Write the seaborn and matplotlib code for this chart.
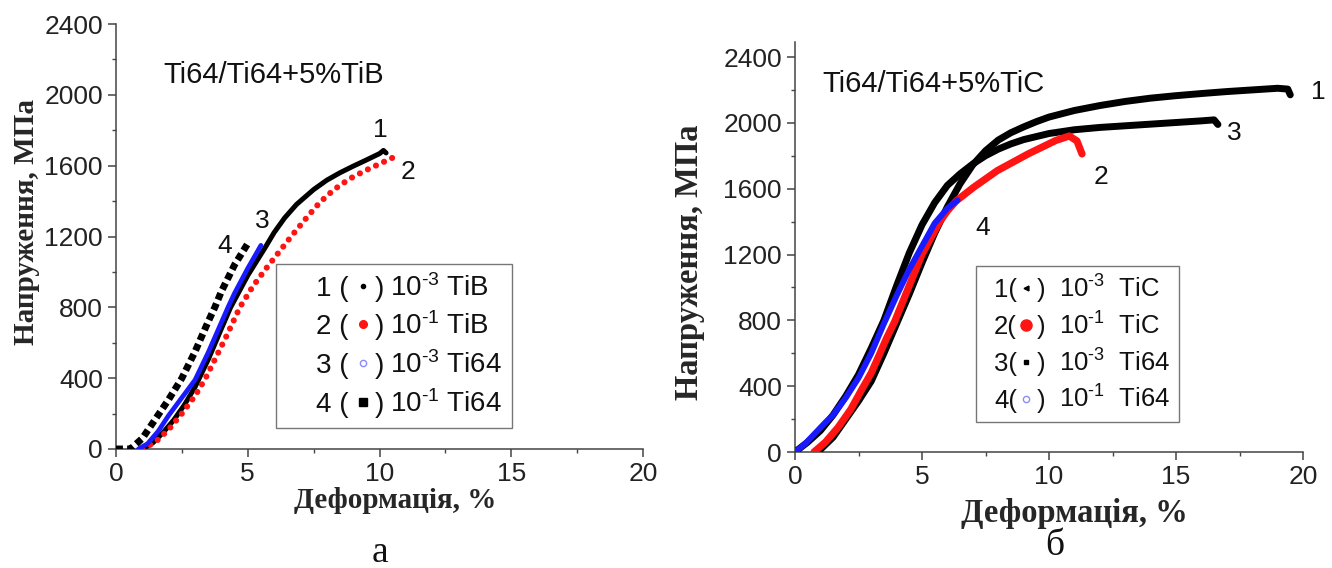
import matplotlib
matplotlib.use("Agg")
import matplotlib.pyplot as plt
import seaborn as sns
from matplotlib.legend_handler import HandlerBase
from matplotlib.lines import Line2D
from matplotlib.text import Text
from matplotlib.ticker import MultipleLocator

# ---------------- data: panel a (Ti64/Ti64+5%TiB) ----------------
tib_c1_x = [1.0, 1.4, 1.8, 2.2, 2.6, 3.0, 3.5, 4.0, 4.35, 5.0, 5.65, 6.0, 6.4, 6.85, 7.5,
            8.0, 8.5, 9.0, 9.5, 10.0, 10.15, 10.25]
tib_c1_y = [0, 35, 95, 165, 250, 350, 505, 680, 800, 980, 1135, 1222, 1305, 1381, 1465,
            1518, 1560, 1597, 1632, 1668, 1686, 1672]
tib_c2_x = [1.0, 1.5, 2.0, 2.5, 3.0, 3.4, 3.8, 4.2, 4.7, 5.2, 5.7, 6.2, 6.7, 7.2, 7.6,
            8.0, 8.5, 9.0, 9.5, 10.0, 10.5]
tib_c2_y = [0, 40, 110, 200, 300, 400, 520, 640, 800, 920, 1020, 1115, 1210, 1300, 1370,
            1430, 1490, 1537, 1575, 1610, 1645]
tib_c3_x = [0.85, 1.2, 1.6, 2.0, 2.5, 3.0, 3.5, 4.0, 4.25, 4.5, 5.0, 5.5]
tib_c3_y = [0, 30, 100, 190, 290, 390, 545, 715, 800, 880, 1020, 1150]
tib_c4_x = [0.0, 0.55, 1.0, 1.5, 2.0, 2.5, 3.0, 3.5, 3.75, 4.0, 4.5, 5.0]
tib_c4_y = [0, 0, 60, 170, 280, 400, 550, 720, 800, 890, 1040, 1160]

# ---------------- data: panel б (Ti64/Ti64+5%TiC) ----------------
tic_c1_x = [0.9, 1.5, 2.0, 2.5, 3.0, 3.5, 4.0, 4.5, 5.0, 5.5, 6.0, 6.5, 7.0, 7.5, 8.0,
            8.5, 9.0, 9.5, 10.0, 11.0, 12.0, 13.0, 14.0, 15.0, 16.0, 17.0, 18.0, 19.0,
            19.4, 19.5]
tic_c1_y = [0, 90, 200, 310, 430, 600, 780, 960, 1150, 1330, 1490, 1630, 1745, 1830, 1895,
            1940, 1975, 2007, 2035, 2075, 2105, 2130, 2150, 2165, 2178, 2190, 2200, 2210,
            2205, 2170]
tic_c2_x = [0.75, 1.2, 1.7, 2.2, 2.64, 3.0, 3.31, 3.6, 3.92, 4.46, 5.0, 5.68, 6.0, 6.35,
            7.03, 7.97, 9.19, 10.27, 10.8, 11.1, 11.3]
tic_c2_y = [0, 60, 150, 260, 383, 480, 587, 690, 791, 996, 1200, 1395, 1465, 1526,
            1608, 1710, 1812, 1893, 1920, 1890, 1811]
tic_c3_x = [0.0, 0.5, 1.0, 1.5, 2.0, 2.5, 3.0, 3.5, 4.0, 4.5, 5.0, 5.5, 6.0, 6.5, 7.0,
            7.5, 8.0, 8.5, 9.0, 10.0, 11.0, 12.0, 13.0, 14.0, 15.0, 16.0, 16.5, 16.65]
tic_c3_y = [0, 60, 130, 225, 340, 470, 630, 800, 1010, 1210, 1380, 1515, 1620, 1690, 1750,
            1800, 1840, 1872, 1898, 1935, 1958, 1972, 1982, 1992, 2002, 2012, 2018, 1990]
tic_c4_x = [0.0, 0.4, 0.8, 1.2, 1.5, 2.0, 2.5, 3.0, 3.5, 4.0, 4.5, 5.0, 5.5, 6.0, 6.4]
tic_c4_y = [0, 50, 115, 180, 225, 330, 450, 600, 780, 950, 1110, 1250, 1390, 1480, 1530]

# legend texts and curve numbers
tib_legend = [r"10$^{\text{-3}}$ TiB", r"10$^{\text{-1}}$ TiB",
              r"10$^{\text{-3}}$ Ti64", r"10$^{\text{-1}}$ Ti64"]
tic_legend = [r"10$^{\text{-3}}$  TiC", r"10$^{\text{-1}}$  TiC",
              r"10$^{\text{-3}}$  Ti64", r"10$^{\text{-1}}$  Ti64"]
curve_numbers = ["1", "2", "3", "4"]
tib_title = "Ti64/Ti64+5%TiB"
tic_title = "Ti64/Ti64+5%TiC"
xlabel = "Деформація, %"
ylabel = "Напруження, МПа"
x_ticks = [0, 5, 10, 15, 20]
y_ticks = [0, 400, 800, 1200, 1600, 2000, 2400]

# ---------------- style ----------------
sns.set_theme(style="ticks")
plt.rcParams["font.family"] = ["Liberation Sans", "DejaVu Sans"]
plt.rcParams.update({
    "mathtext.fontset": "custom",
    "mathtext.rm": "Liberation Sans",
    "mathtext.it": "Liberation Sans:italic",
    "mathtext.bf": "Liberation Sans:bold",
    "mathtext.default": "regular",
    "axes.edgecolor": "#444444",
    "axes.linewidth": 1.1,
})

BLACK = "#000000"
RED = "#ff1414"
BLUE = "#1a1aff"
LIGHTBLUE = "#8c8cff"


class ParenHandler(HandlerBase):
    """Draws '1 ( marker )' as the legend handle."""

    def __init__(self, prefix, lead, mark_x, close_x, mk):
        super().__init__()
        self.prefix = prefix
        self.lead = lead
        self.mark_x = mark_x
        self.close_x = close_x
        self.mk = mk

    def create_artists(self, legend, orig_handle, xdescent, ydescent, width,
                       height, fontsize, trans):
        em = fontsize
        x0 = -xdescent
        yb = -ydescent
        t1 = Text(x0 + self.lead * em, yb, self.prefix, ha="left", va="baseline",
                  fontsize=fontsize, family="Liberation Sans", color="#111111")
        t1.set_transform(trans)
        m = Line2D([x0 + (self.lead + self.mark_x) * em], [yb + 0.36 * em],
                   linestyle="none", **self.mk)
        m.set_transform(trans)
        t2 = Text(x0 + (self.lead + self.close_x) * em, yb, ")", ha="left",
                  va="baseline", fontsize=fontsize, family="Liberation Sans",
                  color="#111111")
        t2.set_transform(trans)
        return [t1, m, t2]


fig = plt.figure(figsize=(13.32, 5.68), dpi=100)
W, H = 1332.0, 568.0


def make_axes(x0, x1, ybot, ytop):
    return fig.add_axes([x0 / W, 1 - ybot / H, (x1 - x0) / W, (ybot - ytop) / H])


def style_axes(ax, ytop):
    ax.set_xlim(0, 20)
    ax.set_ylim(0, ytop)
    ax.set_xticks(x_ticks)
    ax.set_yticks(y_ticks)
    ax.xaxis.set_minor_locator(MultipleLocator(2.5))
    ax.yaxis.set_minor_locator(MultipleLocator(200))
    ax.tick_params(which="major", direction="out", length=5.5, width=1.1,
                   color="#444444", labelsize=19, pad=4, labelcolor="#222222")
    ax.tick_params(which="minor", direction="out", length=3, width=1.0,
                   color="#444444")
    sns.despine(ax=ax)


# ---------------- panel a ----------------
axa = make_axes(116, 643, 449, 24)
sns.lineplot(x=tib_c1_x, y=tib_c1_y, ax=axa, color=BLACK, lw=3.6, sort=False,
             estimator=None, solid_capstyle="round", solid_joinstyle="round", zorder=3)
sns.lineplot(x=tib_c2_x, y=tib_c2_y, ax=axa, color=RED, lw=4.4, sort=False,
             estimator=None, linestyle=(0, (0.01, 1.45)), dash_capstyle="round",
             zorder=4)
sns.lineplot(x=tib_c3_x, y=tib_c3_y, ax=axa, color=BLUE, lw=3.4, sort=False,
             estimator=None, solid_capstyle="round", solid_joinstyle="round", zorder=5)
sns.lineplot(x=tib_c4_x, y=tib_c4_y, ax=axa, color=BLACK, lw=5.0, sort=False,
             estimator=None, linestyle=(0, (1, 0.6)), dash_capstyle="butt",
             zorder=6)
style_axes(axa, 2400)

for num, (lx, ly) in zip(curve_numbers, [(10.02, 1801), (11.08, 1564), (5.54, 1287), (4.14, 1146)]):
    axa.text(lx, ly, num, fontsize=19, ha="center", va="center", color="#111111")
axa.text(1.78, 2112, tib_title, fontsize=21, ha="left", va="center", color="#111111")

axa.set_xlabel(xlabel, family="Liberation Serif", fontweight="bold", fontsize=21)
axa.set_ylabel(ylabel, family="Liberation Serif", fontweight="bold", fontsize=21)
axa.xaxis.set_label_coords(0.529, -0.12)
axa.xaxis.label.set_va("center")
axa.yaxis.set_label_coords(-0.169, 0.534)
axa.yaxis.label.set_va("center")

tib_mk = [
    dict(marker="o", markersize=3, color=BLACK),
    dict(marker="o", markersize=5.5, color=RED),
    dict(marker="o", markersize=4.5, markerfacecolor="white", markeredgecolor=LIGHTBLUE,
         markeredgewidth=1.0),
    dict(marker="s", markersize=5.5, color=BLACK),
]
handles_a = [Line2D([], []) for _ in range(4)]
hmap_a = {h: ParenHandler(f"{n} (", 1.1, 1.69, 2.12, mk)
          for h, n, mk in zip(handles_a, curve_numbers, tib_mk)}
leg_a = axa.legend(handles_a, tib_legend, handler_map=hmap_a, loc="upper left",
                   bbox_to_anchor=((276 - 116) / 527, (449 - 264) / 425),
                   borderaxespad=0, fontsize=20, handlelength=1.1 + 2.45,
                   handleheight=0.7, handletextpad=0.21, labelspacing=0.4,
                   borderpad=0.35, frameon=True, fancybox=False, framealpha=1,
                   edgecolor="#777777")
leg_a.get_frame().set_linewidth(1.0)
for t in leg_a.get_texts():
    t.set_color("#111111")

# ---------------- panel б ----------------
ytop_b = 2400 * 410 / 395
axb = make_axes(795, 1303, 452, 42)
sns.lineplot(x=tic_c3_x, y=tic_c3_y, ax=axb, color=BLACK, lw=5.0, sort=False,
             estimator=None, solid_capstyle="round", solid_joinstyle="round", zorder=3)
sns.lineplot(x=tic_c1_x, y=tic_c1_y, ax=axb, color=BLACK, lw=5.0, sort=False,
             estimator=None, solid_capstyle="round", solid_joinstyle="round", zorder=3)
sns.lineplot(x=tic_c2_x, y=tic_c2_y, ax=axb, color=RED, lw=5.2, sort=False,
             estimator=None, solid_capstyle="round", solid_joinstyle="round", zorder=4)
sns.lineplot(x=tic_c4_x, y=tic_c4_y, ax=axb, color=BLUE, lw=4.3, sort=False,
             estimator=None, solid_capstyle="round", solid_joinstyle="round", zorder=5)
style_axes(axb, ytop_b)

for num, (lx, ly) in zip(curve_numbers, [(20.6, 2187), (12.05, 1671), (17.28, 1938), (7.40, 1361)]):
    axb.text(lx, ly, num, fontsize=19, ha="center", va="center", color="#111111")
axb.text(1.06, 2236, tic_title, fontsize=21, ha="left", va="center", color="#111111")

axb.set_xlabel(xlabel, family="Liberation Serif", fontweight="bold", fontsize=23.5)
axb.set_ylabel(ylabel, family="Liberation Serif", fontweight="bold", fontsize=23.5)
axb.xaxis.set_label_coords(0.549, -0.151)
axb.xaxis.label.set_va("center")
axb.yaxis.set_label_coords(-0.2067, 0.463)
axb.yaxis.label.set_va("center")

tic_mk = [
    dict(marker="<", markersize=3.5, color=BLACK),
    dict(marker="o", markersize=8, color=RED),
    dict(marker="s", markersize=3.5, color=BLACK),
    dict(marker="o", markersize=4.5, markerfacecolor="white", markeredgecolor=LIGHTBLUE,
         markeredgewidth=1.0),
]
handles_b = [Line2D([], []) for _ in range(4)]
hmap_b = {h: ParenHandler(f"{n}(", 0.36, 1.24, 1.64, mk)
          for h, n, mk in zip(handles_b, curve_numbers, tic_mk)}
leg_b = axb.legend(handles_b, tic_legend, handler_map=hmap_b, loc="upper left",
                   bbox_to_anchor=((976 - 795) / 508, (452 - 266) / 410),
                   borderaxespad=0, fontsize=18.5, handlelength=0.36 + 1.97,
                   handleheight=0.7, handletextpad=0.55, labelspacing=0.38,
                   borderpad=0.35, frameon=True, fancybox=False, framealpha=1,
                   edgecolor="#777777")
leg_b.get_frame().set_linewidth(1.0)
for t in leg_b.get_texts():
    t.set_color("#111111")

# panel letters
fig.text(380 / W, 1 - 553 / H, "а", family="Liberation Serif", fontsize=27,
         ha="center", va="center", color="#111111")
fig.text(1055 / W, 1 - 546 / H, "б", family="Liberation Serif", fontsize=27,
         ha="center", va="center", color="#111111")

fig.savefig("out.png", dpi=100)
